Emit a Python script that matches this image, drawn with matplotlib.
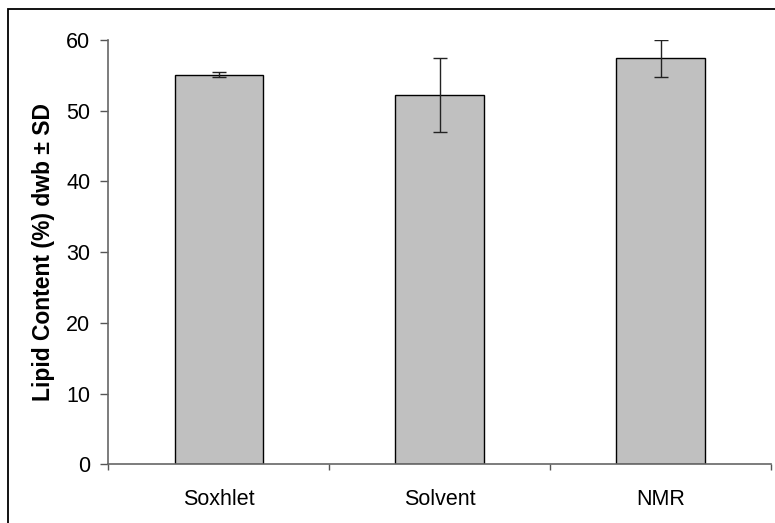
import matplotlib.pyplot as plt
import numpy as np
from matplotlib.patches import Rectangle

plt.rcParams['font.family'] = ['Liberation Sans', 'DejaVu Sans']

# lipid content by extraction method
methods = ['Soxhlet', 'Solvent', 'NMR']
lipid_mean = [55.1, 52.2, 57.4]
lipid_sd = [0.37, 5.25, 2.63]

fig = plt.figure(figsize=(7.75, 5.23), dpi=100)
ax = fig.add_axes([0.1397, 0.1122, 0.9948 - 0.1397, 0.9235 - 0.1122])

# outer chart frame
fig.patches.append(Rectangle((8 / 775, -0.1), 1.2, 1 - 9.5 / 523 + 0.1,
                             transform=fig.transFigure, fill=False,
                             edgecolor='black', linewidth=1.3))

x = np.arange(len(methods))
ax.bar(x, lipid_mean, width=0.4, color='#c0c0c0', edgecolor='black', linewidth=1.0,
       zorder=2)
ax.errorbar(x, lipid_mean, yerr=lipid_sd, fmt='none', ecolor='#222222',
            elinewidth=1.0, capsize=5, capthick=1.0, zorder=3)

ax.set_xlim(-0.5, 2.5)
ax.set_ylim(0, 60)
ax.set_yticks([0, 10, 20, 30, 40, 50, 60])
ax.set_xticks(x)
ax.set_xticklabels(methods)
ax.set_xticks([-0.5, 0.5, 1.5, 2.5], minor=True)
ax.tick_params(axis='x', which='major', length=0, pad=18, labelsize=15.5)
ax.tick_params(axis='x', which='minor', length=4, width=1, color='#555555',
               direction='out')
ax.tick_params(axis='y', length=6, width=1, color='#555555', labelsize=15.5, pad=7)

for s in ['top', 'right']:
    ax.spines[s].set_visible(False)
for s in ['left', 'bottom']:
    ax.spines[s].set_color('#666666')
    ax.spines[s].set_linewidth(1.2)

ax.set_ylabel('Lipid Content (%) dwb \u00b1 SD', fontsize=16.5, fontweight='bold',
              labelpad=8)

fig.savefig('out.png', dpi=100)
